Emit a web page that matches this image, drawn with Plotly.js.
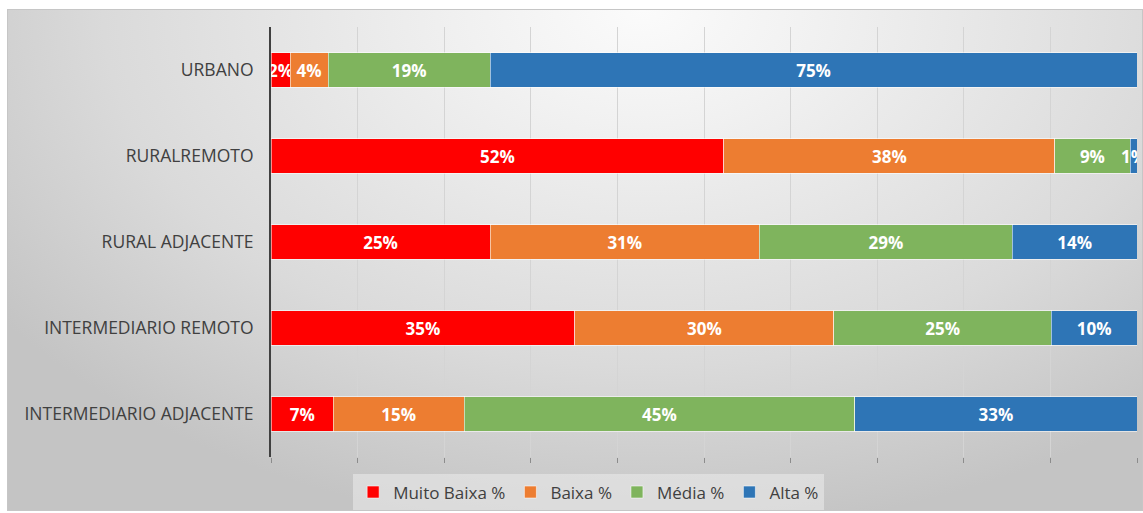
<!DOCTYPE html>
<html>
<head>
<meta charset="utf-8">
<script src="https://cdn.plot.ly/plotly-3.0.1.min.js"></script>
<style>
  html, body { margin: 0; padding: 0; background: #ffffff; }
  #frame {
    position: absolute; left: 7px; top: 9px; width: 1134px; height: 500px;
    border: 1px solid #c6c6c6;
    background: radial-gradient(ellipse 70% 105% at 56% 0%, #fbfbfb 0%, #f1f1f1 22%, #e4e4e4 48%, #dadada 68%, #c4c4c4 100%);
  }
  #chart { position: absolute; left: 0; top: 0; width: 1143px; height: 513px; }
</style>
</head>
<body>
<div id="frame"></div>
<div id="chart"></div>
<script>
const categories = ["INTERMEDIARIO ADJACENTE", "INTERMEDIARIO REMOTO", "RURAL ADJACENTE", "RURALREMOTO", "URBANO"];
const muitoBaixa = [7.2, 35.1, 25.3, 52.3, 2.2];
const baixa      = [15.1, 29.9, 31.1, 38.2, 4.4];
const media      = [45.1, 25.1, 29.2, 8.7, 18.7];
const alta       = [32.6, 9.9, 14.4, 0.8, 74.7];
const seriesNames = ["Muito Baixa %", "Baixa %", "Média %", "Alta %"];
const seriesColors = ["#FF0000", "#ED7D31", "#7FB45D", "#2E75B6"];
const seriesValues = [muitoBaixa, baixa, media, alta];

const traces = seriesValues.map((vals, i) => ({
  type: "bar",
  orientation: "h",
  name: seriesNames[i],
  y: categories,
  x: vals,
  text: vals.map(v => Math.round(v) + "%"),
  textposition: "inside",
  insidetextanchor: "middle",
  constraintext: "none",
  textangle: 0,
  textfont: { family: "'Open Sans', sans-serif", size: 17, color: "#ffffff", weight: "bold" },
  marker: { color: seriesColors[i], line: { color: "rgba(255,255,255,0.55)", width: 1 } },
  hoverinfo: "name+x"
}));

const layout = {
  width: 1143, height: 513,
  barmode: "stack",
  bargap: 0.6,
  paper_bgcolor: "rgba(0,0,0,0)",
  plot_bgcolor: "rgba(0,0,0,0)",
  margin: { l: 271, r: 6, t: 27, b: 56 },
  font: { family: "'Open Sans', sans-serif", color: "#404040", size: 17 },
  xaxis: {
    range: [0, 100], dtick: 10, tick0: 0,
    showgrid: true, gridcolor: "#d4d4d4", gridwidth: 1,
    zeroline: false, showline: false,
    ticks: "outside", ticklen: 5, tickcolor: "#8c8c8c", tickwidth: 1,
    showticklabels: false, fixedrange: true
  },
  yaxis: {
    type: "category",
    showline: true, linecolor: "#404040", linewidth: 2,
    showgrid: false, zeroline: false, ticks: "",
    ticklabelstandoff: 12,
    tickfont: { size: 17.5, color: "#404040" },
    fixedrange: true
  },
  showlegend: true,
  legend: {
    orientation: "h",
    xref: "container", yref: "container",
    x: 0.515, xanchor: "center",
    y: 0.04, yanchor: "middle",
    bgcolor: "rgba(234,234,234,0.6)",
    font: { size: 17, color: "#404040" },
    traceorder: "normal",
    itemwidth: 30
  }
};

Plotly.newPlot("chart", traces, layout, { displayModeBar: false, staticPlot: true });
</script>
</body>
</html>
